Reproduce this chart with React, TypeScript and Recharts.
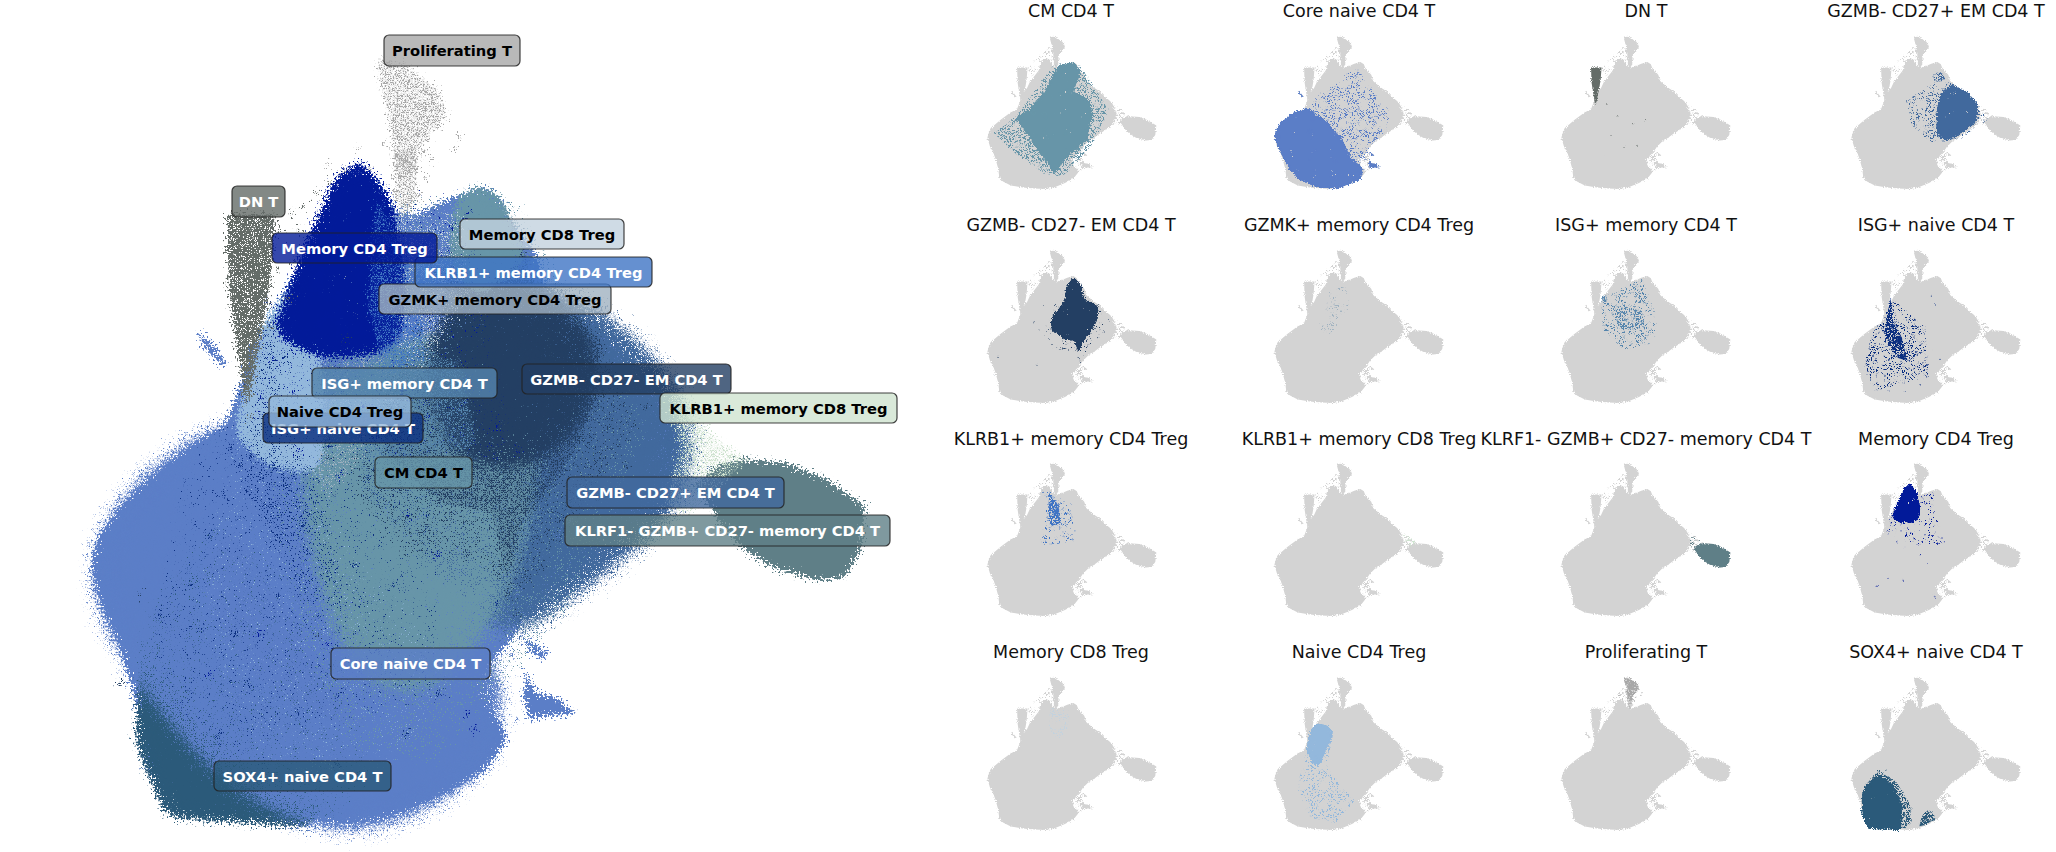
import { ScatterChart, Scatter, XAxis, YAxis } from 'recharts';

type Pt = [number, number];
type Density = 'solid' | 'fuzz' | 'soft' | 'speck' | 'dense' | 'medium' | 'light' | 'sparse' | 'trace';
type Layer = { pts: Pt[]; color: string; density?: Density; v?: number };

// cluster colours
const C_CM = '#6795a8';
const C_CORE = '#5b7ec7';
const C_DN = '#646c68';
const C_CD27P = '#41699d';
const C_CD27N = '#233f63';
const C_GZMK = '#a0b2c0';
const C_ISGM = '#5585ad';
const C_ISGN = '#0b2f80';
const C_KLRB4 = '#3f74c4';
const C_KLRB8 = '#cfe3d0';
const C_KLRF = '#5f7f87';
const C_MEM4 = '#021a99';
const C_MEM8 = '#c3d2de';
const C_NAIVE = '#93b8dc';
const C_PROLIF = '#a8a8a8';
const C_SOX4 = '#2b5a7a';
const GRAY = '#d3d3d3';

// outlines
const bodyEdge: Pt[] = [[199,443],[227,428],[243,383],[252,350],[274,320],[288,287],[327,233],[332,207],[349,177],[366,170],[385,187],[399,213],[416,217],[438,207],[460,197],[488,188],[504,200],[510,217],[538,253],[549,287],[582,317],[610,337],[632,363],[666,393],[679,428],[688,450],[682,467],[666,510],[640,530],[610,550],[582,573],[554,593],[532,617],[516,643],[499,663],[482,687],[488,710],[504,730],[510,747],[488,777],[449,800],[404,820],[360,830],[310,828],[254,823],[199,813],[163,793],[146,773],[141,730],[129,680],[118,647],[102,613],[91,570],[99,540],[121,510],[152,480]];
const lobeEdge: Pt[] = [[727,467],[749,463],[793,467],[832,483],[871,510],[866,557],[849,583],[821,585],[777,572],[749,553],[727,530],[712,505],[700,487]];
const prolifEdge: Pt[] = [[379,58],[407,63],[443,93],[449,113],[421,150],[416,177],[399,173],[393,127],[382,80]];
const prolifTail: Pt[] = [[396,150],[420,150],[418,200],[406,222],[398,200]];
const dnEdge: Pt[] = [[228,216],[276,216],[272,280],[262,340],[248,410],[240,360],[230,290]];
const stripeEdge: Pt[] = [[199,335],[212,345],[228,368],[222,367],[205,350]];
const bandEdge: Pt[] = [[527,645],[540,650],[552,660],[548,664],[535,658]];
const wedgeEdge: Pt[] = [[530,680],[540,700],[560,703],[579,720],[540,723],[532,725],[527,700]];
const bridgeEdge: Pt[] = [[672,395],[720,440],[752,465],[712,500],[690,520],[670,505],[684,450]];
const topCloud: Pt[] = [[280,215],[320,165],[375,110],[395,130],[398,190],[345,172],[315,230],[285,285]];
const gapCloud: Pt[] = [[482,687],[516,643],[530,660],[532,730],[510,747],[488,710]];

const sox4Core: Pt[] = [[184,574],[217,557],[283,599],[324,701],[324,785],[316,833],[168,823],[138,752],[143,633]];
const sox4Side: Pt[] = [[430,735],[470,745],[478,775],[430,805],[405,812],[412,775]];
const sox4Halo: Pt[] = [[150,610],[217,530],[300,590],[360,700],[370,790],[330,830],[250,815],[160,780]];

const coreEdge: Pt[] = [[180,440],[246,423],[329,482],[395,566],[444,668],[502,735],[486,786],[378,828],[290,822],[200,780],[165,740],[130,668],[89,566],[114,499]];
const coreHalo: Pt[] = [[246,423],[300,350],[345,330],[420,250],[477,221],[520,300],[610,420],[620,520],[530,615],[502,735],[444,668],[395,566]];
const coreMain: Pt[] = [[199,443],[227,428],[260,420],[330,470],[360,560],[410,650],[470,640],[520,640],[488,710],[510,747],[488,777],[449,800],[404,820],[360,840],[300,826],[240,790],[190,745],[150,690],[129,660],[118,647],[102,613],[91,570],[99,540],[121,510],[152,480]];

const cmEdge: Pt[] = [[489,187],[522,238],[486,339],[560,381],[577,448],[552,583],[444,685],[403,752],[378,710],[312,617],[221,465],[271,440],[353,347],[420,204]];
const cmHalo: Pt[] = [[122,550],[221,465],[403,195],[520,205],[651,432],[568,617],[436,769],[353,752],[221,651]];
const cmHaloMain: Pt[] = [[270,470],[403,195],[520,205],[651,432],[568,617],[436,769],[353,752],[300,640]];
const cmMain: Pt[] = [[305,440],[420,330],[486,340],[535,420],[535,500],[505,600],[460,670],[405,720],[345,650],[315,540]];
const cmTop: Pt[] = [[460,197],[488,188],[504,200],[510,217],[530,262],[480,300],[452,262]];

const cd27nEdge: Pt[] = [[489,195],[527,238],[535,305],[601,339],[601,398],[568,474],[527,524],[510,583],[494,516],[444,507],[387,457],[387,398],[444,322],[461,229]];
const cd27nHalo: Pt[] = [[350,480],[400,340],[460,240],[600,330],[640,430],[580,520],[520,610],[480,560],[400,560]];
const cd27nMain: Pt[] = [[450,290],[535,280],[600,340],[600,395],[570,450],[505,480],[440,450],[435,360]];

const cd27pEdge: Pt[] = [[554,305],[628,339],[677,406],[669,491],[595,550],[529,592],[488,558],[483,448],[504,347]];
const cd27pHalo: Pt[] = [[348,381],[470,300],[560,290],[726,482],[600,570],[463,600],[365,499]];
const cd27pBud: Pt[] = [[470,245],[505,240],[525,265],[505,290],[472,285]];
const cd27pMain: Pt[] = [[470,320],[560,285],[590,310],[620,330],[645,355],[676,385],[692,425],[700,450],[695,470],[680,515],[650,540],[620,560],[590,583],[560,603],[540,625],[515,655],[470,650],[490,520]];

const naiveEdge: Pt[] = [[279,293],[345,302],[362,344],[320,447],[304,504],[271,496],[238,428],[254,344]];
const naiveHalo: Pt[] = [[254,344],[362,344],[330,520],[461,681],[378,790],[260,770],[196,616],[238,428]];
const naiveMain: Pt[] = [[282,300],[312,290],[325,400],[322,475],[270,470],[238,440],[247,385],[262,335]];

const isgnEdge: Pt[] = [[271,297],[283,415],[324,499],[348,617],[299,600],[242,482],[258,381]];
const isgnHalo: Pt[] = [[283,313],[431,448],[447,702],[201,769],[151,651],[184,482]];
const isgmEdge: Pt[] = [[332,330],[463,364],[480,448],[381,465],[324,415]];
const isgmHalo: Pt[] = [[275,297],[463,204],[534,404],[520,525],[381,560],[283,465]];
const isgmTip: Pt[] = [[275,290],[298,292],[300,318],[285,320]];

const klrb4Edge: Pt[] = [[378,200],[420,276],[428,361],[387,378],[370,310]];
const klrb4Halo: Pt[] = [[353,200],[430,220],[494,345],[486,445],[390,480],[340,465],[362,320]];
const klrb8Edge: Pt[] = [[690,412],[742,452],[748,468],[715,480],[692,455]];
const gzmkEdge: Pt[] = [[350,240],[420,240],[440,340],[400,420],[330,500],[295,450],[330,340]];
const mem8Edge: Pt[] = [[380,215],[465,215],[470,300],[420,380],[375,310]];

const mem4Edge: Pt[] = [[362,160],[392,200],[408,290],[400,345],[365,358],[316,358],[275,335],[305,255],[338,180]];
const mem4Halo: Pt[] = [[340,175],[463,201],[520,464],[400,470],[258,413],[262,340]];

// individual points that stand out from the clouds
const prolifDots: Pt[] = [[384,70],[392,66],[401,74],[410,82],[418,88],[428,92],[436,98],[443,106],[447,118],[440,128],[431,122],[422,110],[413,101],[404,96],[395,90],[388,84],[392,108],[400,116],[410,125],[420,135],[431,141],[426,152],[416,148],[406,140],[397,134],[399,155],[409,163],[418,171],[428,180],[402,178],[411,190],[420,197],[406,205],[398,192],[434,160],[462,137],[458,150],[385,145],[372,170],[360,150],[345,172],[330,165]];
const dnDots: Pt[] = [[232,225],[245,222],[258,228],[270,224],[281,232],[292,215],[305,208],[318,195],[331,184],[300,232],[288,250],[296,262],[279,270],[266,254],[240,248],[250,275],[236,300],[262,310],[272,330],[248,345],[256,372],[246,395],[252,420],[290,300]];
const isgnDots: Pt[] = [[231,452],[240,470],[252,458],[262,482],[275,470],[288,490],[298,505],[268,510],[248,495],[280,520],[305,530],[225,500],[210,540],[190,590],[160,620],[236,640],[280,600],[320,620],[355,570],[380,655],[340,700],[300,720],[250,690],[220,740],[265,770],[340,770],[410,740],[440,700],[395,590],[430,520],[470,560],[370,480],[330,450],[300,420],[285,360],[278,330],[272,305],[480,330],[460,290],[500,610]];
const mem4Dots: Pt[] = [[262,400],[274,360],[295,395],[320,400],[345,385],[365,410],[405,395],[430,420],[470,380],[500,430],[520,455],[440,260],[455,230],[470,215],[260,415],[380,440],[300,455],[340,480],[410,520],[440,560],[470,720],[478,735],[210,680],[260,640],[330,650]];
const klrb4Dots: Pt[] = [[350,205],[365,225],[440,290],[460,310],[480,345],[495,400],[485,445],[445,430],[410,440],[380,460],[360,455],[400,395],[425,385],[450,360],[470,300],[480,270]];
const sox4Dots: Pt[] = [[230,540],[260,560],[290,590],[200,575],[330,640],[175,600],[250,530],[350,680],[370,720],[360,770]];
const cd27nDots: Pt[] = [[350,340],[330,460],[470,560],[520,620],[510,600],[630,470],[650,410],[320,640],[140,600],[120,690],[305,420],[600,500]];
const gapDots: Pt[] = [[515,660],[530,650],[540,655],[525,640],[500,690],[510,705],[520,725],[528,680],[540,700],[490,720],[560,540],[575,525]];
const bridgeDots: Pt[] = [[690,430],[705,440],[720,455],[735,460],[700,465],[715,480],[690,490],[680,510],[695,470],[710,500]];
const dnStray: Pt[] = [[300,400],[350,460],[420,500],[480,480],[320,560],[380,620],[290,660],[440,610]];

// labels on the big panel
const labelNames = ['CM CD4 T','Core naive CD4 T','DN T','GZMB- CD27+ EM CD4 T','GZMB- CD27- EM CD4 T','GZMK+ memory CD4 Treg','ISG+ memory CD4 T','ISG+ naive CD4 T','KLRB1+ memory CD4 Treg','KLRB1+ memory CD8 Treg','KLRF1- GZMB+ CD27- memory CD4 T','Memory CD4 Treg','Memory CD8 Treg','Naive CD4 Treg','Proliferating T','SOX4+ naive CD4 T'];
const labelLeft = [375,331,232,567,522,379,312,263,415,660,565,272,460,269,384,214];
const labelRight = [472,490,285,784,731,611,497,423,652,897,890,437,624,411,520,391];
const labelTop = [457,648,186,477,364,284,368,413,257,393,515,233,219,396,35,761];
const labelBottom = [488,679,217,508,394,314,398,443,287,423,546,263,249,427,66,791];
const labelFill = [C_CM,C_CORE,C_DN,C_CD27P,C_CD27N,C_GZMK,C_ISGM,C_ISGN,C_KLRB4,C_KLRB8,C_KLRF,C_MEM4,C_MEM8,C_NAIVE,C_PROLIF,C_SOX4];
const labelInk = ['#000','#fff','#fff','#fff','#fff','#000','#fff','#fff','#fff','#000','#fff','#fff','#000','#000','#000','#fff'];

const mainLayers: Layer[] = [
  { pts: bodyEdge, color: C_CORE },
  { pts: sox4Core, color: C_SOX4, density: 'fuzz' },
  { pts: coreMain, color: C_CORE, density: 'soft', v: 1 },
  { pts: sox4Halo, color: C_SOX4, density: 'trace', v: 2 },
  { pts: cd27pMain, color: C_CD27P, density: 'soft', v: 0 },
  { pts: cmHaloMain, color: C_CM, density: 'sparse', v: 0 },
  { pts: cmMain, color: C_CM, density: 'soft', v: 2 },
  { pts: cd27pHalo, color: C_CD27P, density: 'sparse', v: 1 },
  { pts: cd27nHalo, color: C_CD27N, density: 'sparse', v: 2 },
  { pts: cd27nEdge, color: C_CD27N, density: 'medium', v: 0 },
  { pts: cd27nMain, color: C_CD27N, density: 'soft', v: 1 },
  { pts: cmTop, color: C_CM, density: 'fuzz', v: 1 },
  { pts: gzmkEdge, color: C_GZMK, density: 'light', v: 2 },
  { pts: mem8Edge, color: C_MEM8, density: 'light', v: 0 },
  { pts: naiveHalo, color: C_NAIVE, density: 'trace', v: 1 },
  { pts: naiveMain, color: C_NAIVE, density: 'fuzz', v: 2 },
  { pts: isgmEdge, color: C_ISGM, density: 'medium', v: 2 },
  { pts: isgnHalo, color: C_ISGN, density: 'trace', v: 0 },
  { pts: isgnEdge, color: C_ISGN, density: 'sparse', v: 1 },
  { pts: mem4Halo, color: C_MEM4, density: 'trace', v: 2 },
  { pts: mem4Edge, color: C_MEM4, density: 'fuzz', v: 0 },
  { pts: klrb4Edge, color: C_KLRB4, density: 'medium', v: 0 },
  { pts: lobeEdge, color: C_KLRF },
  { pts: bridgeEdge, color: C_KLRB8, density: 'medium', v: 1 },
  { pts: dnEdge, color: C_DN, density: 'speck', v: 2 },
  { pts: prolifEdge, color: C_PROLIF, density: 'medium', v: 0 },
  { pts: prolifTail, color: C_PROLIF, density: 'medium', v: 1 },
  { pts: stripeEdge, color: C_CORE },
  { pts: bandEdge, color: C_CORE },
  { pts: wedgeEdge, color: C_CORE },
];
const mainDots: Array<[Pt[], string]> = [
  [prolifDots, C_PROLIF],
  [dnDots, C_DN],
  [isgnDots, C_ISGN],
  [mem4Dots, C_MEM4],
  [cd27nDots, C_CD27N],
  [gapDots, C_CORE],
  [bridgeDots, C_KLRB8],
];

const grayLayers: Layer[] = [
  { pts: bodyEdge, color: GRAY },
  { pts: lobeEdge, color: GRAY },
  { pts: prolifEdge, color: GRAY },
  { pts: prolifTail, color: GRAY },
  { pts: dnEdge, color: GRAY },
  { pts: stripeEdge, color: GRAY },
  { pts: bandEdge, color: GRAY },
  { pts: wedgeEdge, color: GRAY },
  { pts: topCloud, color: GRAY, density: 'sparse', v: 1 },
  { pts: bridgeEdge, color: GRAY, density: 'light', v: 2 },
  { pts: gapCloud, color: GRAY, density: 'light', v: 0 },
];

const panelTitles = ['CM CD4 T','Core naive CD4 T','DN T','GZMB- CD27+ EM CD4 T','GZMB- CD27- EM CD4 T','GZMK+ memory CD4 Treg','ISG+ memory CD4 T','ISG+ naive CD4 T','KLRB1+ memory CD4 Treg','KLRB1+ memory CD8 Treg','KLRF1- GZMB+ CD27- memory CD4 T','Memory CD4 Treg','Memory CD8 Treg','Naive CD4 Treg','Proliferating T','SOX4+ naive CD4 T'];
const panelLayers: Layer[][] = [
  [{ pts: cmHalo, color: C_CM, density: 'light', v: 0 }, { pts: cmEdge, color: C_CM, density: 'fuzz', v: 1 }],
  [{ pts: coreHalo, color: C_CORE, density: 'sparse', v: 1 }, { pts: coreEdge, color: C_CORE, density: 'fuzz', v: 2 }, { pts: stripeEdge, color: C_CORE }, { pts: wedgeEdge, color: C_CORE }, { pts: bandEdge, color: C_CORE }],
  [{ pts: dnEdge, color: C_DN }],
  [{ pts: cd27pHalo, color: C_CD27P, density: 'sparse', v: 2 }, { pts: cd27pBud, color: C_CD27P, density: 'medium', v: 0 }, { pts: cd27pEdge, color: C_CD27P, density: 'fuzz', v: 1 }],
  [{ pts: cd27nHalo, color: C_CD27N, density: 'trace', v: 1 }, { pts: cd27nEdge, color: C_CD27N, density: 'fuzz', v: 2 }],
  [{ pts: gzmkEdge, color: C_GZMK, density: 'trace', v: 2 }],
  [{ pts: isgmHalo, color: C_ISGM, density: 'sparse', v: 0 }, { pts: isgmEdge, color: C_ISGM, density: 'light', v: 1 }, { pts: isgmTip, color: C_ISGM, density: 'dense', v: 2 }],
  [{ pts: isgnHalo, color: C_ISGN, density: 'sparse', v: 0 }, { pts: isgnEdge, color: C_ISGN, density: 'dense', v: 1 }],
  [{ pts: klrb4Halo, color: C_KLRB4, density: 'trace', v: 2 }, { pts: klrb4Edge, color: C_KLRB4, density: 'dense', v: 0 }],
  [{ pts: klrb8Edge, color: C_KLRB8, density: 'light', v: 1 }],
  [{ pts: bridgeEdge, color: C_KLRF, density: 'trace', v: 2 }, { pts: lobeEdge, color: C_KLRF }],
  [{ pts: mem4Halo, color: C_MEM4, density: 'trace', v: 0 }, { pts: mem4Edge, color: C_MEM4, density: 'fuzz', v: 1 }],
  [{ pts: mem8Edge, color: C_MEM8, density: 'sparse', v: 1 }],
  [{ pts: naiveHalo, color: C_NAIVE, density: 'sparse', v: 2 }, { pts: naiveEdge, color: C_NAIVE, density: 'fuzz', v: 0 }],
  [{ pts: prolifEdge, color: C_PROLIF, density: 'dense', v: 0 }, { pts: prolifTail, color: C_PROLIF, density: 'light', v: 1 }],
  [{ pts: sox4Halo, color: C_SOX4, density: 'medium', v: 1 }, { pts: sox4Core, color: C_SOX4, density: 'fuzz', v: 0 }, { pts: sox4Side, color: C_SOX4, density: 'dense', v: 2 }],
];
const panelDots: Array<[Pt[], string]> = [
  [[], C_CM], [[], C_CORE], [dnStray, C_DN], [[], C_CD27P],
  [cd27nDots, C_CD27N], [[], C_GZMK], [[], C_ISGM], [isgnDots, C_ISGN],
  [klrb4Dots, C_KLRB4], [[], C_KLRB8], [[], C_KLRF], [mem4Dots, C_MEM4],
  [[], C_MEM8], [[], C_NAIVE], [prolifDots, C_PROLIF], [sox4Dots, C_SOX4],
];

const colX = [986.5, 1274, 1561, 1851];
const rowY = [35, 248.5, 462, 676];
const titleX = [1071, 1359, 1646, 1936];
const titleY = [11, 225, 439, 652];

const X_DOMAIN: [number, number] = [89, 874];
const Y_DOMAIN: [number, number] = [52, 833];

// fuzz and soft fade out at the edge; the rest are plain stipples of a filled outline
const fadeNames = ['fuzz', 'soft'];
const fadeCut = 0.18;
const fadeBlurMain = [7, 30];
const fadeBlurPanel = [0.8, 1.6];
const stippleNames = ['speck', 'dense', 'medium', 'light', 'sparse', 'trace'];
const cutMain = [0.38, 0.4, 0.46, 0.52, 0.6, 0.67];
const cutPanel = [0.36, 0.38, 0.44, 0.5, 0.56, 0.62];
const seeds = [3, 11, 29];

const toData = (pts: Pt[]) => pts.map(([x, y]) => ({ x, y }));
const noDot = () => <g />;

function blob(layer: Layer, scope: string, key: string) {
  const d = layer.density ?? 'solid';
  return (
    <Scatter
      key={key}
      data={toData(layer.pts)}
      fill={layer.color}
      line={{ fill: layer.color, stroke: 'none' }}
      lineType="joint"
      shape={noDot}
      className={d === 'solid' ? undefined : `${scope}-${d}-${layer.v ?? 0}`}
      isAnimationActive={false}
    />
  );
}

function dots(pts: Pt[], color: string, r: number, key: string) {
  if (pts.length === 0) return null;
  return (
    <Scatter
      key={key}
      data={toData(pts)}
      fill={color}
      shape={(p: any) => <circle cx={p.cx} cy={p.cy} r={r} fill={color} />}
      isAnimationActive={false}
    />
  );
}

function fadeFilter(id: string, freq: number, seed: number, sigma: number) {
  return (
    <filter key={id} id={`f-${id}`} x="-35%" y="-35%" width="170%" height="170%" colorInterpolationFilters="sRGB">
      <feGaussianBlur in="SourceGraphic" stdDeviation={sigma} result="b" />
      <feColorMatrix in="b" type="matrix" values="1 0 0 0 0 0 1 0 0 0 0 0 1 0 0 0 0 0 60 0" result="col" />
      <feTurbulence type="fractalNoise" baseFrequency={freq} numOctaves={1} seed={seed} result="n" />
      <feColorMatrix in="n" type="matrix" values="0 0 0 0 0 0 0 0 0 0 0 0 0 0 0 1 0 0 0 0" result="na" />
      <feComposite in="na" in2="b" operator="in" result="prod" />
      <feColorMatrix in="prod" type="matrix" values={`0 0 0 0 0 0 0 0 0 0 0 0 0 0 0 0 0 0 12 ${-12 * fadeCut}`} result="mask" />
      <feComposite in="col" in2="mask" operator="in" />
    </filter>
  );
}

function stippleFilter(id: string, freq: number, seed: number, cut: number) {
  return (
    <filter key={id} id={`f-${id}`} x="-10%" y="-10%" width="120%" height="120%" colorInterpolationFilters="sRGB">
      <feTurbulence type="fractalNoise" baseFrequency={freq} numOctaves={1} seed={seed} result="n" />
      <feColorMatrix in="n" type="matrix" values={`0 0 0 0 0 0 0 0 0 0 0 0 0 0 0 12 0 0 0 ${-12 * cut}`} result="mask" />
      <feComposite in="SourceGraphic" in2="mask" operator="in" />
    </filter>
  );
}

function Filters() {
  const rules: string[] = [];
  const defs: any[] = [];
  const addRule = (id: string) => rules.push(`.${id}{filter:url(#f-${id})}`);
  seeds.forEach((seed, v) => {
    fadeNames.forEach((name, n) => {
      addRule(`m-${name}-${v}`);
      addRule(`p-${name}-${v}`);
      defs.push(fadeFilter(`m-${name}-${v}`, 0.5, seed + n * 5, fadeBlurMain[n]));
      defs.push(fadeFilter(`p-${name}-${v}`, 0.95, seed + n * 5, fadeBlurPanel[n]));
    });
    stippleNames.forEach((name, n) => {
      addRule(`m-${name}-${v}`);
      addRule(`p-${name}-${v}`);
      defs.push(stippleFilter(`m-${name}-${v}`, 0.5, seed + n * 7, cutMain[n]));
      defs.push(stippleFilter(`p-${name}-${v}`, 0.95, seed + n * 7, cutPanel[n]));
    });
  });
  return (
    <>
      <style>{rules.join('')}</style>
      <svg width={0} height={0} style={{ position: 'absolute' }}>
        <defs>
          {defs}
          <filter id="grain-m" x="0" y="0" width="100%" height="100%" colorInterpolationFilters="sRGB">
            <feTurbulence type="fractalNoise" baseFrequency={0.5} numOctaves={2} seed={7} result="n" />
            <feDisplacementMap in="SourceGraphic" in2="n" scale={24} xChannelSelector="R" yChannelSelector="G" />
          </filter>
          <filter id="grain-p" x="0" y="0" width="100%" height="100%" colorInterpolationFilters="sRGB">
            <feTurbulence type="fractalNoise" baseFrequency={0.9} numOctaves={1} seed={5} result="n" />
            <feDisplacementMap in="SourceGraphic" in2="n" scale={4} xChannelSelector="R" yChannelSelector="G" />
          </filter>
        </defs>
      </svg>
    </>
  );
}

function labelShape(p: any) {
  const i = p.payload.i;
  const w = labelRight[i] - labelLeft[i];
  const h = labelBottom[i] - labelTop[i];
  return (
    <g>
      <rect x={p.cx - w / 2} y={p.cy - h / 2} width={w} height={h} rx={5} fill={labelFill[i]} fillOpacity={0.8} stroke="#222" strokeOpacity={0.85} strokeWidth={1.2} />
      <text x={p.cx} y={p.cy} textAnchor="middle" dominantBaseline="central" fill={labelInk[i]} fontFamily="DejaVu Sans" fontWeight="bold" fontSize={14.7}>
        {labelNames[i]}
      </text>
    </g>
  );
}

const labelData = labelNames.map((_, i) => ({
  i,
  x: (labelLeft[i] + labelRight[i]) / 2,
  y: (labelTop[i] + labelBottom[i]) / 2,
}));

function clusterAxes() {
  return [
    <XAxis key="x" dataKey="x" type="number" domain={X_DOMAIN} hide />,
    <YAxis key="y" dataKey="y" type="number" domain={Y_DOMAIN} reversed hide />,
  ];
}

function Panel({ i }: { i: number }) {
  const col = i % 4;
  const row = Math.floor(i / 4);
  const [pd, pc] = panelDots[i];
  return (
    <>
      <div style={{ position: 'absolute', left: titleX[col] - 200, width: 400, top: titleY[row] - 11, lineHeight: '22px', textAlign: 'center', whiteSpace: 'nowrap', fontFamily: 'DejaVu Sans', fontSize: 17.5, color: '#111' }}>
        {panelTitles[i]}
      </div>
      <div style={{ position: 'absolute', left: colX[col] - 10, top: rowY[row] - 10, filter: 'url(#grain-p)' }}>
        <ScatterChart width={190} height={174.5} margin={{ top: 10, right: 10, bottom: 10, left: 10 }}>
          {clusterAxes()}
          {grayLayers.map((l, k) => blob(l, 'p', `g${k}`))}
          {panelLayers[i].map((l, k) => blob(l, 'p', `c${k}`))}
          {dots(pd, pc, 0.55, 'd')}
        </ScatterChart>
      </div>
    </>
  );
}

export default function App() {
  return (
    <div style={{ position: 'absolute', left: 0, top: 0, width: 2056, height: 852, background: '#fff', overflow: 'hidden' }}>
      <Filters />
      <div style={{ position: 'absolute', left: 49, top: 12, filter: 'url(#grain-m)' }}>
        <ScatterChart width={859} height={861} margin={{ top: 40, right: 40, bottom: 40, left: 40 }}>
          {clusterAxes()}
          {mainLayers.map((l, k) => blob(l, 'm', `m${k}`))}
          {mainDots.map(([pts, c], k) => dots(pts, c, 1.8, `d${k}`))}
        </ScatterChart>
      </div>
      <div style={{ position: 'absolute', left: 49, top: 12 }}>
        <ScatterChart width={859} height={861} margin={{ top: 0, right: 0, bottom: 0, left: 0 }}>
          <XAxis dataKey="x" type="number" domain={[49, 908]} hide />
          <YAxis dataKey="y" type="number" domain={[12, 873]} reversed hide />
          <Scatter data={labelData} fill="#000" shape={labelShape} isAnimationActive={false} />
        </ScatterChart>
      </div>
      {panelTitles.map((_, i) => (
        <Panel key={i} i={i} />
      ))}
    </div>
  );
}
